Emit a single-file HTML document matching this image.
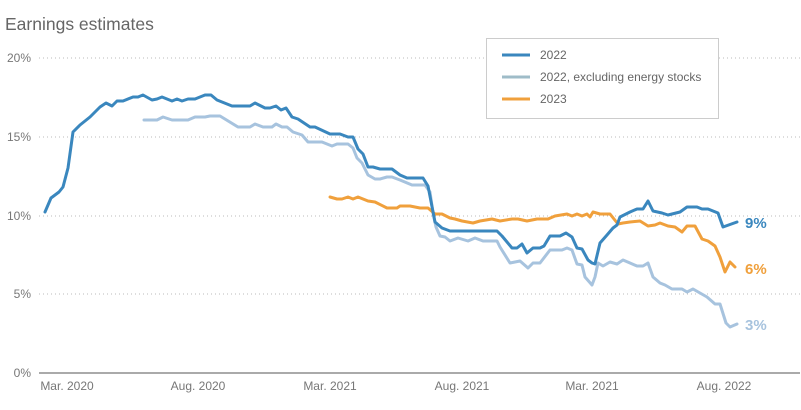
<!DOCTYPE html>
<html><head><style>
body{margin:0;background:#fff;}
svg{display:block;font-family:"Liberation Sans",sans-serif;}
</style></head><body>
<svg width="801" height="410" viewBox="0 0 801 410">
<text x="5" y="30" font-size="17.5" fill="#666">Earnings estimates</text>
<g stroke="#bbb" stroke-width="1" stroke-dasharray="1,3">
<line x1="39" y1="58" x2="800" y2="58"/>
<line x1="39" y1="137" x2="800" y2="137"/>
<line x1="39" y1="216" x2="800" y2="216"/>
<line x1="39" y1="294" x2="800" y2="294"/>
</g>
<line x1="39" y1="373" x2="800" y2="373" stroke="#aaa" stroke-width="2"/>
<g font-size="12" fill="#777" text-anchor="end">
<text x="31" y="62">20%</text>
<text x="31" y="141">15%</text>
<text x="31" y="220">10%</text>
<text x="31" y="298">5%</text>
<text x="31" y="377">0%</text>
</g>
<g font-size="12" fill="#777" text-anchor="middle">
<text x="67" y="390">Mar. 2020</text>
<text x="198" y="390">Aug. 2020</text>
<text x="330" y="390">Mar. 2021</text>
<text x="462" y="390">Aug. 2021</text>
<text x="592" y="390">Mar. 2021</text>
<text x="724" y="390">Aug. 2022</text>
</g>
<g fill="none" stroke-width="3" stroke-linejoin="round" stroke-linecap="round">
<polyline stroke="#a7c3de" points="144,120 157,120 163,117 172,120 188,120 195,117 205,117 210,116 220,116 238,127 250,127 255,124 263,127 272,127 276,124 282,127 287,127 293,132 302,135 308,142 322,142 332,146 337,144 348,144 353,148 357,158 362,163 368,175 375,179 380,179 387,177 392,177 400,180 412,185 425,185 430,192 433,213 436,227 440,236 445,237 450,241 458,238 468,241 475,238 483,241 497,241 500,247 510,263 520,261 528,268 533,263 540,263 550,250 562,250 567,248 572,250 577,264 582,265 585,277 592,285 595,277 598,263 603,266 610,262 617,264 623,260 630,263 637,266 643,266 648,263 653,277 660,283 665,285 672,289 682,289 687,292 693,289 700,293 707,297 715,304 720,304 726,323 730,327 737,324"/>
<polyline stroke="#f0a03c" points="330,197 337,199 342,199 348,197 353,199 358,197 368,201 375,202 387,208 397,208 400,206 410,206 420,208 428,208 435,214 442,214 450,218 455,219 462,221 473,223 480,221 492,219 500,221 512,219 518,219 527,221 537,219 548,219 555,216 567,214 572,216 577,214 582,216 587,214 590,217 593,212 600,214 610,214 618,224 623,223 630,222 640,221 648,226 655,225 660,223 668,226 675,227 682,232 687,226 695,226 702,239 708,241 715,246 720,257 725,272 730,262 735,267"/>
<polyline stroke="#3a87be" points="45,212 51,198 55,195 59,192 63,187 68,168 73,132 80,125 90,117 100,107 106,103 112,106 117,101 123,101 133,97 138,97 143,95 152,100 157,99 162,97 172,101 177,99 182,101 188,99 195,99 200,97 205,95 211,95 217,100 232,106 250,106 255,103 265,108 270,108 276,106 281,110 286,108 292,117 298,119 310,127 315,127 330,134 340,134 348,137 353,137 358,149 363,154 368,167 373,167 380,169 392,169 400,175 407,178 423,178 428,186 435,222 442,228 450,231 497,231 502,236 512,248 517,248 522,244 527,253 533,248 540,248 544,246 550,236 560,236 566,233 572,237 577,248 582,249 588,260 592,263 595,264 600,243 607,235 613,228 617,225 620,217 630,212 637,209 643,209 648,201 653,211 662,213 668,215 680,212 687,207 697,207 702,209 708,209 718,213 723,227 737,222"/>
</g>
<g font-size="15" font-weight="bold">
<text x="745" y="228" fill="#3a87be">9%</text>
<text x="745" y="274" fill="#f0a03c">6%</text>
<text x="745" y="330" fill="#a7c3de">3%</text>
</g>
<rect x="486.5" y="38.5" width="232" height="80" fill="#fff" stroke="#ccc"/>
<g stroke-width="3">
<line x1="502" y1="55" x2="530" y2="55" stroke="#3a87be"/>
<line x1="502" y1="77" x2="530" y2="77" stroke="#9fbcc8"/>
<line x1="502" y1="99" x2="530" y2="99" stroke="#f0a03c"/>
</g>
<g font-size="12" fill="#666">
<text x="540" y="59">2022</text>
<text x="540" y="81">2022, excluding energy stocks</text>
<text x="540" y="103">2023</text>
</g>
</svg>
</body></html>
